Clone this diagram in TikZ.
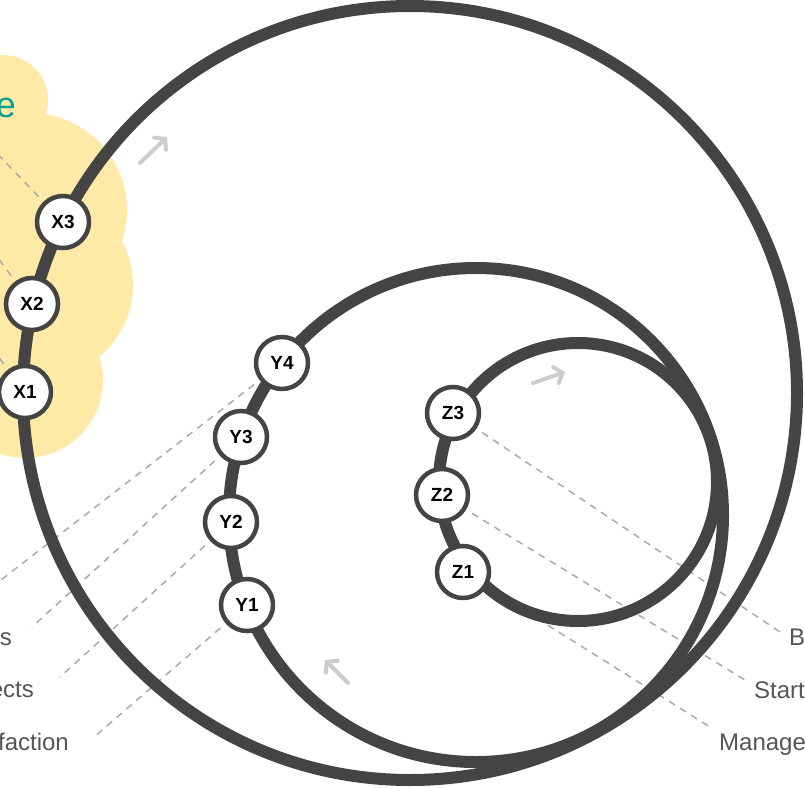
\documentclass[tikz,border=0pt]{standalone}
\usepackage{fontspec}
\setmainfont{Liberation Sans}
\usetikzlibrary{arrows.meta}
\definecolor{ringc}{HTML}{444444}
\definecolor{cloudc}{HTML}{FFE9A6}
\definecolor{tealc}{HTML}{0A9E8C}
\definecolor{dashc}{HTML}{AAAAAA}
\definecolor{lblc}{HTML}{555555}
\definecolor{arrc}{HTML}{CCCCCC}
\pgfdeclarelayer{back}
\pgfdeclarelayer{mid}
\pgfsetlayers{back,mid,main}
\begin{document}
\begin{tikzpicture}[x=1pt,y=-1pt,
 ringline/.style={draw=ringc,line width=12pt},
 stage/.style={circle,draw=ringc,line width=4.5pt,fill=white,minimum size=52pt,inner sep=0pt,font=\bfseries\fontsize{19}{19}\selectfont,text=black},
 leader/.style={draw=dashc,line width=1.5pt,dash pattern=on 7pt off 6pt,shorten <=7pt},
 lab/.style={font=\fontsize{24}{24}\selectfont,text=lblc,inner sep=0pt},
 flow/.style={draw=arrc,line width=4pt,line cap=round,-{Straight Barb[length=7pt,width=17pt,line cap=round]}}]
\useasboundingbox (0,0) rectangle (805,787);
\clip (0,0) rectangle (805,787);

% nodes
\node[stage] (X3) at (63,222) {X3};
\node[stage] (X2) at (32,304) {X2};
\node[stage] (X1) at (25,392) {X1};
\node[stage] (Y4) at (282,363) {Y4};
\node[stage] (Y3) at (241,437) {Y3};
\node[stage] (Y2) at (231,522) {Y2};
\node[stage] (Y1) at (247,605) {Y1};
\node[stage] (Z3) at (453,413) {Z3};
\node[stage] (Z2) at (442,495) {Z2};
\node[stage] (Z1) at (463,572) {Z1};

% labels
\node[lab,anchor=base east] (ls) at (12,645) {s};
\node[lab,anchor=base east] (lects) at (34,697) {ects};
\node[lab,anchor=base east] (lfac) at (69,750) {faction};
\node[lab,anchor=base west] (rb) at (789,645) {B};
\node[lab,anchor=base west] (rstart) at (754,698) {Start};
\node[lab,anchor=base west] (rman) at (719,750) {Manage};
\node[font=\fontsize{36}{36}\selectfont,text=tealc,inner sep=0pt,anchor=base east] (te) at (16,117) {e};

% free ends of leaders
\coordinate (lx3) at (-40,115);
\coordinate (lx2) at (-30,220);
\coordinate (lx1) at (-25,326);
\coordinate (ly4) at (-25,600);
\coordinate (ly3) at (32,627);
\coordinate (ly2) at (60,677);
\coordinate (ly1) at (93,738);
\coordinate (rz3) at (780,632);
\coordinate (rz2) at (745,680);
\coordinate (rz1) at (710,727);

\begin{pgfonlayer}{back}
\fill[cloudc] (3,100) circle[radius=45pt] (30,210) circle[radius=97pt]
  (40,285) circle[radius=93pt] (25,380) circle[radius=78pt];
\path[leader] (X3) -- (lx3);
\path[leader] (X2) -- (lx2);
\path[leader] (X1) -- (lx1);
\path[leader] (Y4) -- (ly4);
\path[leader] (Y3) -- (ly3);
\path[leader] (Y2) -- (ly2);
\path[leader] (Y1) -- (ly1);
\path[leader] (Z3) -- (rz3);
\path[leader] (Z2) -- (rz2);
\path[leader] (Z1) -- (rz1);
\end{pgfonlayer}

\begin{pgfonlayer}{mid}
\draw[ringline] (410,393) circle[radius=387pt];
\draw[ringline] (476,515) circle[radius=247pt];
\draw[ringline] (578,482) circle[radius=139pt];
\end{pgfonlayer}

% direction arrows
\coordinate (a1s) at (140,163); \coordinate (a1e) at (167,137);
\coordinate (a2s) at (533,383); \coordinate (a2e) at (565,372);
\coordinate (a3s) at (348,683); \coordinate (a3e) at (325,660);
\draw[flow] (a1s) -- (a1e);
\draw[flow] (a2s) -- (a2e);
\draw[flow] (a3s) -- (a3e);
\end{tikzpicture}
\end{document}
